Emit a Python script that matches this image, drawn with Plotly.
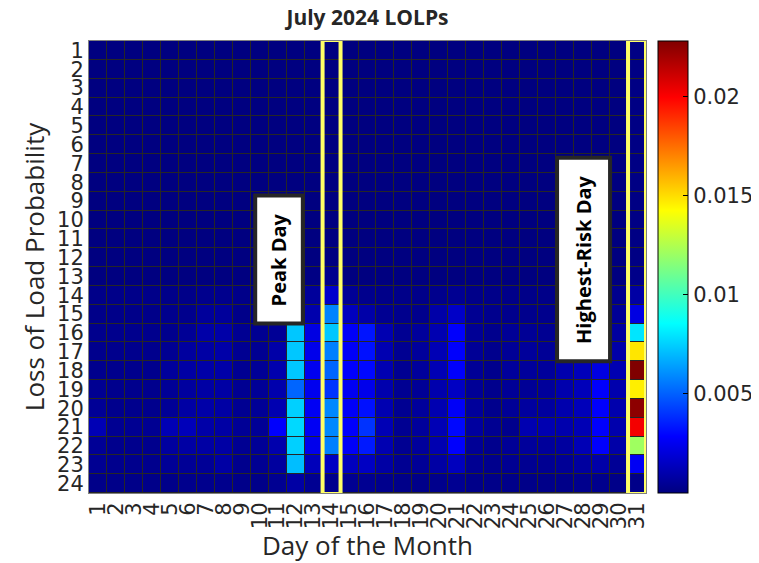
import plotly.graph_objects as go

days = list(range(1, 32))
hours = list(range(1, 25))

# LOLP values per hour (row) across days 1..31
h01 = [0.0000, 0.0000, 0.0000, 0.0000, 0.0000, 0.0000, 0.0000, 0.0000, 0.0000, 0.0000, 0.0000, 0.0000, 0.0000, 0.0000, 0.0000, 0.0000, 0.0000, 0.0000, 0.0000, 0.0000, 0.0000, 0.0000, 0.0000, 0.0000, 0.0000, 0.0000, 0.0000, 0.0000, 0.0000, 0.0000, 0.0001]
h02 = [0.0000, 0.0000, 0.0000, 0.0000, 0.0000, 0.0000, 0.0000, 0.0000, 0.0000, 0.0000, 0.0000, 0.0000, 0.0000, 0.0000, 0.0000, 0.0000, 0.0000, 0.0000, 0.0000, 0.0000, 0.0000, 0.0000, 0.0000, 0.0000, 0.0000, 0.0000, 0.0000, 0.0000, 0.0000, 0.0000, 0.0001]
h03 = [0.0000, 0.0000, 0.0000, 0.0000, 0.0000, 0.0000, 0.0000, 0.0000, 0.0000, 0.0000, 0.0000, 0.0000, 0.0000, 0.0000, 0.0000, 0.0000, 0.0000, 0.0000, 0.0000, 0.0000, 0.0000, 0.0000, 0.0000, 0.0000, 0.0000, 0.0000, 0.0000, 0.0000, 0.0000, 0.0000, 0.0001]
h04 = [0.0000, 0.0000, 0.0000, 0.0000, 0.0000, 0.0000, 0.0000, 0.0000, 0.0000, 0.0000, 0.0000, 0.0000, 0.0000, 0.0000, 0.0000, 0.0000, 0.0000, 0.0000, 0.0000, 0.0000, 0.0000, 0.0000, 0.0000, 0.0000, 0.0000, 0.0000, 0.0000, 0.0000, 0.0000, 0.0000, 0.0001]
h05 = [0.0000, 0.0000, 0.0000, 0.0000, 0.0000, 0.0000, 0.0000, 0.0000, 0.0000, 0.0000, 0.0000, 0.0000, 0.0000, 0.0000, 0.0000, 0.0000, 0.0000, 0.0000, 0.0000, 0.0000, 0.0000, 0.0000, 0.0000, 0.0000, 0.0000, 0.0000, 0.0000, 0.0000, 0.0000, 0.0000, 0.0001]
h06 = [0.0000, 0.0000, 0.0000, 0.0000, 0.0000, 0.0000, 0.0000, 0.0000, 0.0000, 0.0000, 0.0000, 0.0000, 0.0000, 0.0000, 0.0000, 0.0000, 0.0000, 0.0000, 0.0000, 0.0000, 0.0000, 0.0000, 0.0000, 0.0000, 0.0000, 0.0000, 0.0000, 0.0000, 0.0000, 0.0000, 0.0001]
h07 = [0.0000, 0.0000, 0.0000, 0.0000, 0.0000, 0.0000, 0.0000, 0.0000, 0.0000, 0.0000, 0.0000, 0.0000, 0.0000, 0.0000, 0.0000, 0.0000, 0.0000, 0.0000, 0.0000, 0.0000, 0.0000, 0.0000, 0.0000, 0.0000, 0.0000, 0.0000, 0.0000, 0.0000, 0.0000, 0.0000, 0.0001]
h08 = [0.0000, 0.0000, 0.0000, 0.0000, 0.0000, 0.0000, 0.0000, 0.0000, 0.0000, 0.0000, 0.0000, 0.0000, 0.0000, 0.0000, 0.0000, 0.0000, 0.0000, 0.0000, 0.0000, 0.0000, 0.0000, 0.0000, 0.0000, 0.0000, 0.0000, 0.0000, 0.0000, 0.0000, 0.0000, 0.0000, 0.0001]
h09 = [0.0000, 0.0000, 0.0000, 0.0000, 0.0000, 0.0000, 0.0000, 0.0000, 0.0000, 0.0000, 0.0000, 0.0000, 0.0000, 0.0000, 0.0000, 0.0000, 0.0000, 0.0000, 0.0000, 0.0000, 0.0000, 0.0000, 0.0000, 0.0000, 0.0000, 0.0000, 0.0000, 0.0000, 0.0000, 0.0000, 0.0001]
h10 = [0.0000, 0.0000, 0.0000, 0.0000, 0.0000, 0.0000, 0.0000, 0.0000, 0.0000, 0.0000, 0.0000, 0.0000, 0.0000, 0.0000, 0.0000, 0.0000, 0.0000, 0.0000, 0.0000, 0.0000, 0.0000, 0.0000, 0.0000, 0.0000, 0.0000, 0.0000, 0.0000, 0.0000, 0.0000, 0.0000, 0.0001]
h11 = [0.0000, 0.0000, 0.0000, 0.0000, 0.0000, 0.0000, 0.0000, 0.0000, 0.0000, 0.0000, 0.0000, 0.0000, 0.0000, 0.0000, 0.0000, 0.0000, 0.0000, 0.0000, 0.0000, 0.0000, 0.0000, 0.0000, 0.0000, 0.0000, 0.0000, 0.0000, 0.0000, 0.0000, 0.0000, 0.0000, 0.0001]
h12 = [0.0000, 0.0000, 0.0000, 0.0000, 0.0000, 0.0000, 0.0000, 0.0000, 0.0000, 0.0000, 0.0000, 0.0000, 0.0000, 0.0000, 0.0000, 0.0000, 0.0000, 0.0000, 0.0000, 0.0000, 0.0000, 0.0000, 0.0000, 0.0000, 0.0000, 0.0000, 0.0000, 0.0000, 0.0000, 0.0000, 0.0001]
h13 = [0.0000, 0.0000, 0.0000, 0.0000, 0.0000, 0.0000, 0.0000, 0.0000, 0.0000, 0.0000, 0.0000, 0.0000, 0.0001, 0.0003, 0.0000, 0.0000, 0.0000, 0.0000, 0.0000, 0.0000, 0.0000, 0.0000, 0.0000, 0.0000, 0.0000, 0.0000, 0.0000, 0.0000, 0.0000, 0.0000, 0.0002]
h14 = [0.0002, 0.0002, 0.0002, 0.0002, 0.0002, 0.0002, 0.0003, 0.0003, 0.0002, 0.0002, 0.0003, 0.0003, 0.0006, 0.0017, 0.0005, 0.0003, 0.0002, 0.0002, 0.0002, 0.0003, 0.0004, 0.0002, 0.0002, 0.0002, 0.0002, 0.0002, 0.0002, 0.0003, 0.0003, 0.0003, 0.0008]
h15 = [0.0002, 0.0002, 0.0002, 0.0002, 0.0003, 0.0003, 0.0006, 0.0006, 0.0002, 0.0003, 0.0004, 0.0005, 0.0010, 0.0058, 0.0014, 0.0009, 0.0004, 0.0003, 0.0003, 0.0009, 0.0016, 0.0004, 0.0003, 0.0003, 0.0003, 0.0003, 0.0004, 0.0005, 0.0006, 0.0005, 0.0022]
h16 = [0.0003, 0.0003, 0.0003, 0.0003, 0.0003, 0.0005, 0.0009, 0.0009, 0.0004, 0.0004, 0.0005, 0.0073, 0.0022, 0.0073, 0.0027, 0.0033, 0.0011, 0.0004, 0.0006, 0.0011, 0.0028, 0.0005, 0.0003, 0.0005, 0.0005, 0.0004, 0.0005, 0.0007, 0.0008, 0.0007, 0.0080]
h17 = [0.0003, 0.0003, 0.0003, 0.0003, 0.0004, 0.0007, 0.0008, 0.0009, 0.0004, 0.0004, 0.0009, 0.0073, 0.0024, 0.0057, 0.0027, 0.0032, 0.0011, 0.0004, 0.0006, 0.0012, 0.0028, 0.0005, 0.0003, 0.0005, 0.0006, 0.0005, 0.0006, 0.0010, 0.0011, 0.0009, 0.0148]
h18 = [0.0003, 0.0003, 0.0003, 0.0003, 0.0006, 0.0008, 0.0009, 0.0009, 0.0004, 0.0005, 0.0010, 0.0073, 0.0025, 0.0051, 0.0028, 0.0030, 0.0011, 0.0004, 0.0006, 0.0012, 0.0028, 0.0005, 0.0003, 0.0006, 0.0006, 0.0006, 0.0010, 0.0013, 0.0022, 0.0011, 0.0228]
h19 = [0.0004, 0.0003, 0.0003, 0.0003, 0.0005, 0.0007, 0.0008, 0.0008, 0.0004, 0.0005, 0.0010, 0.0051, 0.0025, 0.0040, 0.0026, 0.0024, 0.0010, 0.0004, 0.0005, 0.0010, 0.0015, 0.0005, 0.0003, 0.0005, 0.0005, 0.0006, 0.0010, 0.0013, 0.0028, 0.0010, 0.0146]
h20 = [0.0005, 0.0003, 0.0003, 0.0003, 0.0005, 0.0008, 0.0009, 0.0008, 0.0004, 0.0005, 0.0011, 0.0075, 0.0026, 0.0059, 0.0027, 0.0032, 0.0011, 0.0004, 0.0006, 0.0011, 0.0027, 0.0006, 0.0003, 0.0005, 0.0007, 0.0007, 0.0010, 0.0013, 0.0028, 0.0010, 0.0225]
h21 = [0.0012, 0.0004, 0.0004, 0.0004, 0.0012, 0.0013, 0.0009, 0.0008, 0.0005, 0.0005, 0.0028, 0.0077, 0.0026, 0.0059, 0.0028, 0.0040, 0.0012, 0.0004, 0.0006, 0.0012, 0.0030, 0.0007, 0.0004, 0.0003, 0.0011, 0.0011, 0.0010, 0.0012, 0.0028, 0.0010, 0.0202]
h22 = [0.0005, 0.0003, 0.0003, 0.0003, 0.0007, 0.0008, 0.0008, 0.0008, 0.0004, 0.0005, 0.0010, 0.0075, 0.0024, 0.0057, 0.0027, 0.0034, 0.0011, 0.0004, 0.0006, 0.0011, 0.0028, 0.0005, 0.0003, 0.0005, 0.0006, 0.0006, 0.0007, 0.0012, 0.0028, 0.0009, 0.0121]
h23 = [0.0004, 0.0003, 0.0003, 0.0003, 0.0005, 0.0005, 0.0005, 0.0008, 0.0003, 0.0004, 0.0007, 0.0071, 0.0013, 0.0015, 0.0014, 0.0015, 0.0008, 0.0004, 0.0005, 0.0008, 0.0014, 0.0004, 0.0003, 0.0004, 0.0004, 0.0004, 0.0005, 0.0007, 0.0009, 0.0005, 0.0026]
h24 = [0.0002, 0.0002, 0.0002, 0.0002, 0.0002, 0.0003, 0.0003, 0.0003, 0.0002, 0.0002, 0.0004, 0.0008, 0.0004, 0.0003, 0.0004, 0.0004, 0.0003, 0.0002, 0.0002, 0.0003, 0.0004, 0.0002, 0.0002, 0.0002, 0.0002, 0.0002, 0.0002, 0.0003, 0.0003, 0.0002, 0.0002]

z = [h01, h02, h03, h04, h05, h06, h07, h08, h09, h10, h11, h12,
     h13, h14, h15, h16, h17, h18, h19, h20, h21, h22, h23, h24]

peak_day = 14
risk_day = 31
cbar_ticks = [0.005, 0.01, 0.015, 0.02]

jet = [[0.0, 'rgb(0,0,128)'], [0.125, 'rgb(0,0,255)'], [0.375, 'rgb(0,255,255)'],
       [0.625, 'rgb(255,255,0)'], [0.875, 'rgb(255,0,0)'], [1.0, 'rgb(128,0,0)']]

TICKFONT = "DejaVu Sans"
TEXTFONT = "Open Sans"
INK = '#262626'

# page body adds an 8px offset; figure sized so plot area lands at x 89-646, y 41-493
W, H = 751, 555
ML, MT, MR, MB = 81, 33, 113, 70

fig = go.Figure(go.Heatmap(
    z=z, x=days, y=hours, colorscale=jet, zmin=0, zmax=0.0228,
    xgap=1, ygap=1,
    colorbar=dict(
        thickness=30, len=1, lenmode='fraction', x=1.0216, xanchor='left',
        y=0.5, yanchor='middle', outlinecolor='black', outlinewidth=1,
        tickvals=cbar_ticks, ticktext=[str(t) for t in cbar_ticks],
        ticks='inside', ticklen=5, tickcolor='black', ypad=0, xpad=0,
        tickfont=dict(size=21, color=INK, family=TICKFONT),
    ),
))

yellow = 'rgb(255,255,102)'
shapes = []
for d in (peak_day, risk_day):
    shapes.append(dict(type='rect', xref='x', yref='y', x0=d - 0.5, x1=d + 0.5,
                       y0=0.45, y1=24.55, line=dict(color=yellow, width=4)))
# annotation boxes
shapes.append(dict(type='rect', xref='x', yref='y', x0=9.75, x1=12.4, y0=8.7, y1=15.5,
                   fillcolor='white', line=dict(color=INK, width=4)))
shapes.append(dict(type='rect', xref='x', yref='y', x0=26.55, x1=29.5, y0=6.7, y1=17.5,
                   fillcolor='white', line=dict(color=INK, width=4)))

annotations = [
    dict(x=11.07, y=12.1, xref='x', yref='y', text='<b>Peak Day</b>', showarrow=False,
         textangle=-90, font=dict(size=20, color='black', family=TEXTFONT)),
    dict(x=28.02, y=12.1, xref='x', yref='y', text='<b>Highest-Risk Day</b>', showarrow=False,
         textangle=-90, font=dict(size=20, color='black', family=TEXTFONT)),
]

fig.update_layout(
    width=W, height=H,
    margin=dict(l=ML, r=MR, t=MT, b=MB, autoexpand=False),
    paper_bgcolor='white', plot_bgcolor=INK,
    title=dict(text='<b>July 2024 LOLPs</b>', x=(ML + (W - MR)) / 2 / W, xanchor='center',
               y=1 - 2 / H, yanchor='top', pad=dict(t=0, b=0),
               font=dict(size=21, color=INK, family=TEXTFONT)),
    shapes=shapes, annotations=annotations,
    xaxis=dict(tickmode='array', tickvals=days, ticktext=[str(d) for d in days],
               tickangle=-90, tickfont=dict(size=21, color=INK, family=TICKFONT),
               range=[0.5, 31.5], showgrid=False, zeroline=False, ticks='', automargin=False,
               title=dict(text='Day of the Month', font=dict(size=26, color=INK, family=TEXTFONT), standoff=4),
               showline=True, linecolor='#808080', mirror=True),
    yaxis=dict(tickmode='array', tickvals=hours, ticktext=[str(h) for h in hours],
               tickfont=dict(size=21, color=INK, family=TICKFONT),
               range=[24.5, 0.5], showgrid=False, zeroline=False, ticks='', automargin=False,
               title=dict(text='Loss of Load Probability', font=dict(size=26, color=INK, family=TEXTFONT), standoff=4),
               showline=True, linecolor='#808080', mirror=True),
)

fig.write_html("out.html")
